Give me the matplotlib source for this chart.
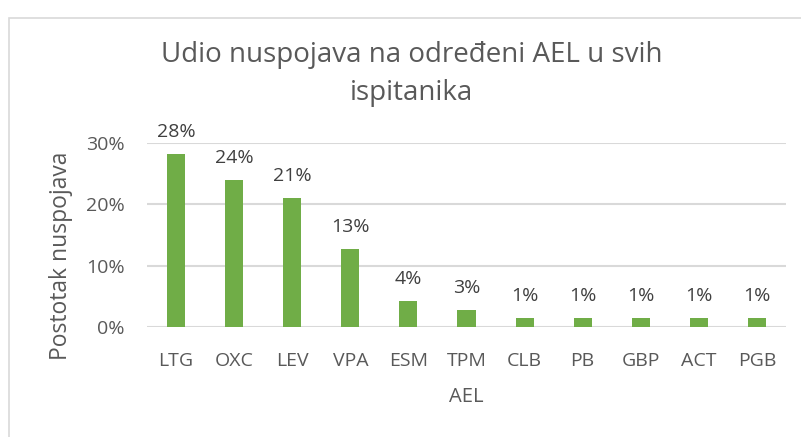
import matplotlib
matplotlib.use("Agg")
import matplotlib.pyplot as plt
from matplotlib.patches import Rectangle

categories = ["LTG", "OXC", "LEV", "VPA", "ESM", "TPM", "CLB", "PB", "GBP", "ACT", "PGB"]
values = [28.2, 23.9, 21.1, 12.7, 4.2, 2.8, 1.4, 1.4, 1.4, 1.4, 1.4]
yticks = [0, 10, 20, 30]
ytick_labels = ["0%", "10%", "20%", "30%"]
title_lines = ["Udio nuspojava na određeni AEL u svih", "ispitanika"]

plt.rcParams['font.family'] = ['Open Sans', 'DejaVu Sans']
text_color = "#595959"
W, H = 801, 437

fig = plt.figure(figsize=(W / 100, H / 100), dpi=100)
fig.patches.append(Rectangle((9 / W, -0.1), 1.2, 1 - 18 / H + 0.1, transform=fig.transFigure,
                             fill=False, edgecolor="#d9d9d9", linewidth=1.2))
ax = fig.add_axes([147 / W, 1 - 327 / H, (786 - 147) / W, (327 - 143) / H])

x = list(range(len(categories)))
ax.bar(x, values, width=0.31, color="#70ad47", zorder=3)
for xi, v in zip(x, values):
    ax.annotate(f"{round(v)}%", (xi, v), xytext=(0, 17), textcoords="offset pixels",
                ha="center", va="baseline", fontsize=14, color="#404040")

ax.set_xlim(-0.5, len(categories) - 0.5)
ax.set_ylim(0, 30)
ax.set_yticks(yticks)
ax.set_yticklabels(ytick_labels)
ax.set_xticks(x)
ax.set_xticklabels(categories)
ax.tick_params(axis="both", length=0, labelsize=14, labelcolor=text_color)
ax.tick_params(axis="x", pad=18)
ax.tick_params(axis="y", pad=16)
ax.grid(axis="y", color="#d9d9d9", linewidth=1.5, zorder=0)
for s in ax.spines.values():
    s.set_visible(False)

fig.text(61 / W, 1 - 256 / H, "Postotak nuspojava", rotation=90, ha="center", va="center",
         fontsize=16.5, color=text_color)
fig.text(466 / W, 1 - 397 / H, "AEL", ha="center", va="center", fontsize=14.5, color=text_color)
for line, base in zip(title_lines, [62, 100]):
    fig.text(412 / W, 1 - base / H, line, ha="center", va="baseline", fontsize=20,
             color=text_color)

fig.savefig("out.png", dpi=100)
